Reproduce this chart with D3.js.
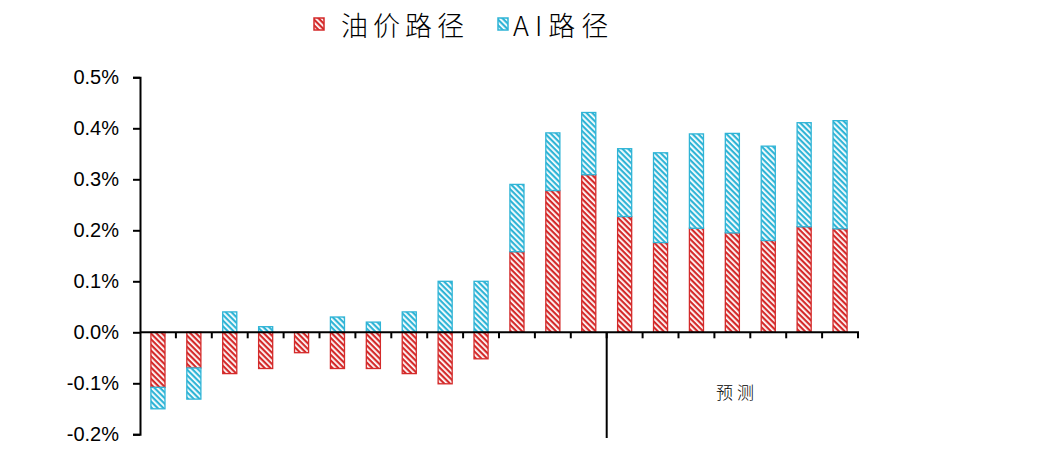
<!doctype html>
<html>
<head>
<meta charset="utf-8">
<script src="https://cdn.jsdelivr.net/npm/d3@7"></script>
<style>
    html,body{
        margin: 0;
        overflow: hidden;
        background: #fff;
    }
</style>
</head>
<body>
<script>
// data (percent)
var categories = d3.range(1, 21).map(function(i){ return "P" + i; });
var oilPath = [-0.108, -0.070, -0.081, -0.071, -0.040, -0.071, -0.071, -0.081, -0.101, -0.052,
               0.158, 0.278, 0.309, 0.227, 0.176, 0.204, 0.195, 0.180, 0.207, 0.203];
var aiPath  = [-0.042, -0.061, 0.040, 0.011, 0.000, 0.030, 0.020, 0.040, 0.100, 0.100,
               0.132, 0.113, 0.122, 0.133, 0.176, 0.185, 0.195, 0.185, 0.204, 0.212];
var seriesNames = ["油价路径", "AI路径"];
var yTicks = [-0.2, -0.1, 0, 0.1, 0.2, 0.3, 0.4, 0.5];
var forecastStart = 13;   // forecast begins after the 13th bar
var forecastLabel = "预测";

(function(){
    var w = 1058, h = 450,
        left = 140, right = 858,
        top = 77.3, bottom = 434.3;

    var colors = {"油价路径": "#d42a2a", "AI路径": "#2fb4d6"};
    var keys = ["oil", "ai"];

    var rows = categories.map(function(c, i){
        return {cat: c, oil: oilPath[i], ai: aiPath[i]};
    });

    var series = d3.stack().keys(keys).offset(d3.stackOffsetDiverging)(rows);

    var x = d3.scaleBand().domain(categories).range([left, right]).paddingInner(0.58).paddingOuter(0.29);
    var xb = d3.scaleBand().domain(categories).range([left, right]);
    var y = d3.scaleLinear().domain([-0.2, 0.5]).range([bottom, top]);

    var svg = d3.select("body").append("svg")
        .attr("width", w)
        .attr("height", h);

    // "\" hatching, coloured stripes on white
    var defs = svg.append("defs");
    seriesNames.forEach(function(name, i){
        var p = defs.append("pattern")
            .attr("id", "hatch" + i)
            .attr("patternUnits", "userSpaceOnUse")
            .attr("width", 4).attr("height", 4)
            .attr("patternTransform", "rotate(45)");
        p.append("rect").attr("width", 4).attr("height", 4).attr("fill", "#fff");
        p.append("rect").attr("width", 4).attr("height", 2.2).attr("fill", colors[name]);
    });

    // bars
    svg.selectAll("g.series").data(series).enter().append("g")
        .attr("class", "series")
        .each(function(s, i){
            d3.select(this).selectAll("rect").data(s).enter().append("rect")
                .filter(function(d){ return Math.abs(d[1] - d[0]) > 1e-9; })
                .attr("x", function(d){ return x(d.data.cat) + 0.5; })
                .attr("width", x.bandwidth() - 1)
                .attr("y", function(d){ return y(Math.max(d[0], d[1])); })
                .attr("height", function(d){ return Math.abs(y(d[0]) - y(d[1])); })
                .attr("fill", "url(#hatch" + i + ")")
                .attr("stroke", colors[seriesNames[i]])
                .attr("stroke-width", 1.3);
        });

    // y axis
    var yAxis = d3.axisLeft(y).tickValues(yTicks).tickSize(7).tickPadding(14)
        .tickFormat(function(d){ return d.toFixed(1) + "%"; });
    var gy = svg.append("g").attr("transform", "translate(" + left + ",0)").call(yAxis);
    gy.select(".domain").attr("stroke", "#000").attr("stroke-width", 2);
    gy.selectAll(".tick line").attr("stroke", "#000").attr("stroke-width", 2);
    gy.selectAll("text")
        .attr("font-family", "Liberation Sans, Arial, sans-serif")
        .attr("font-size", 20).attr("fill", "#000");

    // x axis at zero, ticks on category boundaries
    var y0 = y(0);
    svg.append("line")
        .attr("x1", left).attr("x2", right + 1)
        .attr("y1", y0).attr("y2", y0)
        .attr("stroke", "#000").attr("stroke-width", 2);
    svg.selectAll("line.xtick").data(categories.slice(1).concat(["end"])).enter().append("line")
        .attr("class", "xtick")
        .attr("x1", function(d, i){ return left + xb.step() * (i + 1); })
        .attr("x2", function(d, i){ return left + xb.step() * (i + 1); })
        .attr("y1", y0).attr("y2", y0 + 6)
        .attr("stroke", "#000").attr("stroke-width", 2);

    // forecast divider
    var fx = left + xb.step() * forecastStart;
    svg.append("line")
        .attr("x1", fx).attr("x2", fx)
        .attr("y1", y0).attr("y2", 438)
        .attr("stroke", "#000").attr("stroke-width", 2);
    svg.append("text")
        .attr("x", 737).attr("y", 399)
        .attr("text-anchor", "middle")
        .attr("font-family", "Noto Sans CJK SC")
        .attr("font-weight", 300)
        .attr("font-size", 17)
        .attr("letter-spacing", 4)
        .attr("fill", "#000")
        .text(forecastLabel);

    // legend
    var legendX = [314, 498],
        textX = [27, 15],
        spacing = [5, 6];
    var lg = svg.selectAll("g.legend").data(seriesNames).enter().append("g")
        .attr("class", "legend")
        .attr("transform", function(d, i){ return "translate(" + legendX[i] + ",18)"; });
    lg.append("rect")
        .attr("width", 10).attr("height", 12)
        .attr("fill", function(d, i){ return "url(#hatch" + i + ")"; })
        .attr("stroke", function(d){ return colors[d]; })
        .attr("stroke-width", 1.5);
    lg.append("text")
        .attr("x", function(d, i){ return textX[i]; }).attr("y", 18)
        .attr("font-family", "Noto Sans CJK SC")
        .attr("font-weight", 300)
        .attr("font-size", 27)
        .attr("letter-spacing", function(d, i){ return spacing[i]; })
        .attr("fill", "#000")
        .text(function(d){ return d; });
})();
</script>
</body>
</html>
